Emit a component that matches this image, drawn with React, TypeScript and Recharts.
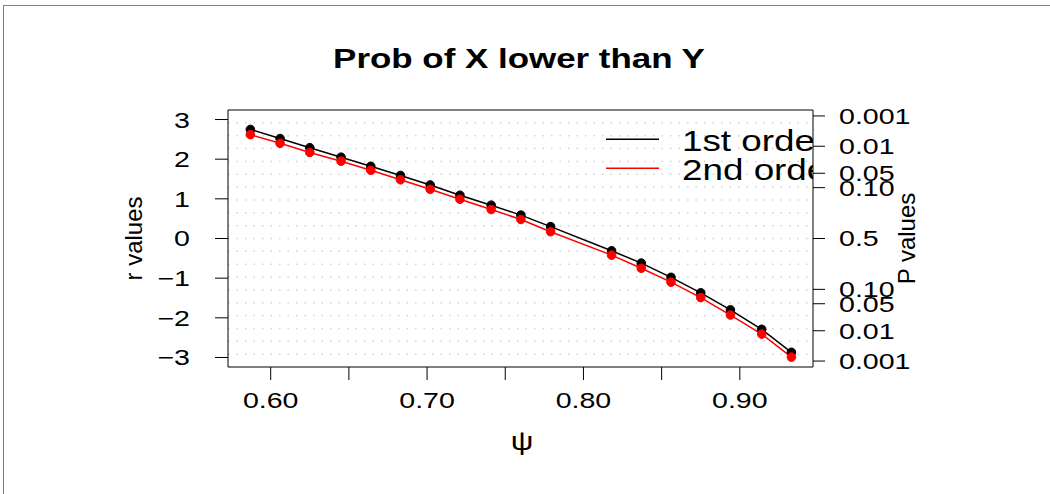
import { LineChart, Line, XAxis, YAxis, ReferenceLine, Legend } from "recharts";

// psi values and r statistics
const PSI = [0.587, 0.606, 0.625, 0.645, 0.664, 0.683, 0.702, 0.721, 0.741, 0.76, 0.779, 0.818, 0.837, 0.856, 0.875, 0.894, 0.914, 0.933];
const R_FIRST = [2.75, 2.52, 2.29, 2.05, 1.82, 1.59, 1.35, 1.09, 0.84, 0.59, 0.3, -0.31, -0.62, -0.98, -1.37, -1.8, -2.29, -2.87];
const R_SECOND = [2.62, 2.4, 2.17, 1.95, 1.72, 1.48, 1.24, 0.99, 0.73, 0.48, 0.17, -0.42, -0.75, -1.1, -1.49, -1.93, -2.41, -2.99];

const SERIES_NAMES = ["1st order", "2nd order"];

const X_TICKS = [0.6, 0.65, 0.7, 0.75, 0.8, 0.85, 0.9];
const X_TICK_LABELS = ["0.60", "", "0.70", "", "0.80", "", "0.90"];
const R_TICKS = [-3, -2, -1, 0, 1, 2, 3];
const P_TICKS_Z = [3.09, 2.326, 1.645, 1.282, 0, -1.282, -1.645, -2.326, -3.09];
const P_LABELS = ["0.001", "0.01", "0.05", "0.10", "0.5", "0.10", "0.05", "0.01", "0.001"];
const GRID_Y = [
  2.916, 2.592, 2.268, 1.944, 1.62, 1.296, 0.972, 0.648, 0.324, 0,
  -0.324, -0.648, -0.972, -1.296, -1.62, -1.944, -2.268, -2.592, -2.916,
];

const X_DOMAIN: [number, number] = [0.5727, 0.9468];
const Y_DOMAIN: [number, number] = [-3.24, 3.24];

const FONT = "'Liberation Sans', Arial, sans-serif";
const SX = 1.27; // horizontal text stretch seen in the reference
const TICK_SIZE = 22.5;

const data = PSI.map((psi, i) => ({ psi, first: R_FIRST[i], second: R_SECOND[i] }));

function StretchTick({ x, y, payload, textAnchor, dy, fmt }: any) {
  return (
    <g transform={`translate(${x},${y}) scale(${SX},1)`}>
      <text x={0} y={0} dy={dy} textAnchor={textAnchor} fontSize={TICK_SIZE} fontFamily={FONT} fill="#000">
        {fmt(payload.value)}
      </text>
    </g>
  );
}

const fmtR = (v: number) => (v < 0 ? `\u2212${Math.abs(v)}` : `${v}`);
const fmtX = (v: number) => {
  const i = X_TICKS.findIndex((t) => Math.abs(t - v) < 1e-6);
  return i >= 0 ? X_TICK_LABELS[i] : "";
};
const fmtP = (v: number) => {
  const i = P_TICKS_Z.findIndex((t) => Math.abs(t - v) < 1e-6);
  return i >= 0 ? P_LABELS[i] : "";
};

function LegendBox({ payload }: any) {
  return (
    <svg width={207} height={70} style={{ display: "block" }}>
      {(payload || []).map((e: any, i: number) => (
        <g key={e.value}>
          <line x1={0} x2={53} y1={19.3 + i * 29} y2={19.3 + i * 29} stroke={e.color} strokeWidth={1.5} />
          <g transform={`translate(76,${30.5 + i * 29.3}) scale(${SX},1)`}>
            <text x={0} y={0} fontSize={29} fontFamily={FONT} fill="#000">{e.value}</text>
          </g>
        </g>
      ))}
    </svg>
  );
}

export default function App() {
  return (
    <div style={{ position: "absolute", left: 0, top: 0, width: 1050, height: 494, background: "#fff", overflow: "hidden" }}>
      {/* outer device frame */}
      <div style={{ position: "absolute", left: 3, top: 5, width: 1100, height: 600, borderTop: "1px solid #808080", borderLeft: "1px solid #808080" }} />

      <LineChart width={1050} height={494} data={data} margin={{ top: 110, right: 0, bottom: 0, left: 0 }}>
        <XAxis
          dataKey="psi"
          type="number"
          domain={X_DOMAIN}
          allowDataOverflow
          ticks={X_TICKS}
          interval={0}
          height={127}
          tickSize={13}
          tickMargin={12}
          axisLine={{ stroke: "#000" }}
          tickLine={{ stroke: "#000" }}
          tick={(p: any) => <StretchTick {...p} dy="0.71em" fmt={fmtX} />}
        />
        <YAxis
          yAxisId="r"
          type="number"
          domain={Y_DOMAIN}
          allowDataOverflow
          ticks={R_TICKS}
          interval={0}
          width={228}
          tickSize={13}
          tickMargin={25}
          axisLine={{ stroke: "#000" }}
          tickLine={{ stroke: "#000" }}
          tick={(p: any) => <StretchTick {...p} dy="0.355em" fmt={fmtR} />}
        />
        <YAxis
          yAxisId="p"
          orientation="right"
          type="number"
          domain={Y_DOMAIN}
          allowDataOverflow
          ticks={P_TICKS_Z}
          interval={0}
          width={237}
          tickSize={12}
          tickMargin={14}
          axisLine={{ stroke: "#000" }}
          tickLine={{ stroke: "#000" }}
          tick={(p: any) => <StretchTick {...p} dy="0.355em" fmt={fmtP} />}
        />

        {GRID_Y.map((v) => (
          <ReferenceLine key={v} yAxisId="r" y={v} stroke="#d3d3d3" strokeWidth={1.5} strokeDasharray="1.5 7" />
        ))}
        {/* top edge of the plot box */}
        <ReferenceLine yAxisId="r" y={Y_DOMAIN[1]} stroke="#000" />

        <Legend
          layout="horizontal"
          verticalAlign="middle"
          align="center"
          content={<LegendBox />}
          wrapperStyle={{ position: "absolute", left: 606, top: 120, width: 207, height: 70, overflow: "hidden" }}
        />

        <Line
          yAxisId="r"
          name={SERIES_NAMES[0]}
          dataKey="first"
          type="linear"
          stroke="#000"
          strokeWidth={1.5}
          dot={{ r: 4.3, fill: "#000", stroke: "#000", strokeWidth: 1 }}
          isAnimationActive={false}
        />
        <Line
          yAxisId="r"
          name={SERIES_NAMES[1]}
          dataKey="second"
          type="linear"
          stroke="#ff0000"
          strokeWidth={1.5}
          dot={{ r: 4.3, fill: "#ff0000", stroke: "#ff0000", strokeWidth: 1 }}
          isAnimationActive={false}
        />
      </LineChart>

      {/* title and axis titles */}
      <svg width={1050} height={494} style={{ position: "absolute", left: 0, top: 0, pointerEvents: "none" }}>
        <g transform={`translate(519,68.3) scale(${SX},1)`}>
          <text x={0} y={0} textAnchor="middle" fontSize={27.5} fontWeight="bold" fontFamily={FONT} fill="#000">
            Prob of X lower than Y
          </text>
        </g>
        <g transform={`translate(522,450) scale(${SX},1)`}>
          <text x={0} y={0} textAnchor="middle" fontSize={25} fontFamily={FONT} fill="#000">ψ</text>
        </g>
        <text x={142} y={238.5} transform="rotate(-90 142 238.5)" textAnchor="middle" fontSize={24} fontFamily={FONT} fill="#000">
          r values
        </text>
        <text x={915} y={238.5} transform="rotate(-90 915 238.5)" textAnchor="middle" fontSize={24} fontFamily={FONT} fill="#000">
          P values
        </text>
      </svg>
    </div>
  );
}
